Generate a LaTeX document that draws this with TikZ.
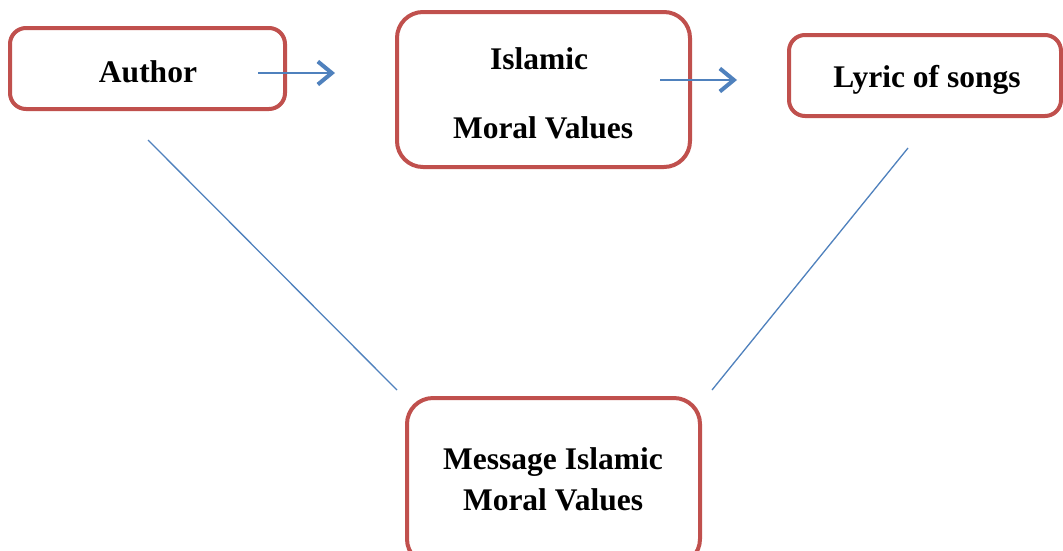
\documentclass[tikz,border=0pt]{standalone}
\usepackage{fontspec}
\setmainfont{Liberation Serif}
\usetikzlibrary{arrows.meta}
\definecolor{boxred}{HTML}{C0504D}
\definecolor{lineblue}{HTML}{4F81BD}
\begin{document}
\begin{tikzpicture}[x=1pt,y=-1pt,
  box/.style={draw=boxred, line width=4pt, rounded corners=#1, inner sep=0pt},
  box/.default=16pt,
  lbl/.style={font=\fontsize{31.5}{37}\selectfont\bfseries, align=center},
  conn/.style={draw=lineblue, line width=1.3pt},
  arr/.style={conn, -{Straight Barb[length=14pt,width=23pt,line width=4pt]}}]
\useasboundingbox (0,0) rectangle (1063,550);
\fill[white] (0,0) rectangle (1063,550);
% boxes
\draw[box] (10,28) rectangle (285,109);
\draw[box=26pt] (397,12) rectangle (690,167);
\draw[box] (789,35) rectangle (1061,116);
\draw[box=26pt] (407,398) rectangle (700,565);
% labels
\node[lbl] (author) at (148,72) {Author};
\node[lbl] (islamic) at (539,59) {Islamic};
\node[lbl] (moral) at (543,128) {Moral Values};
\node[lbl] (lyric) at (927,80) {Lyric of songs};
\node[lbl] (message) at (553,479) {Message Islamic\\[4pt]Moral Values};
% connector end points
\coordinate (a1) at (258,73);
\coordinate (a2) at (335,73);
\coordinate (b1) at (660,80);
\coordinate (b2) at (737,80);
\coordinate (l1) at (148,140);
\coordinate (l2) at (397,390);
\coordinate (r1) at (908,148);
\coordinate (r2) at (712,390);
\draw[arr] (a1) -- (a2);
\draw[arr] (b1) -- (b2);
\draw[conn] (l1) -- (l2);
\draw[conn] (r1) -- (r2);
\end{tikzpicture}
\end{document}
